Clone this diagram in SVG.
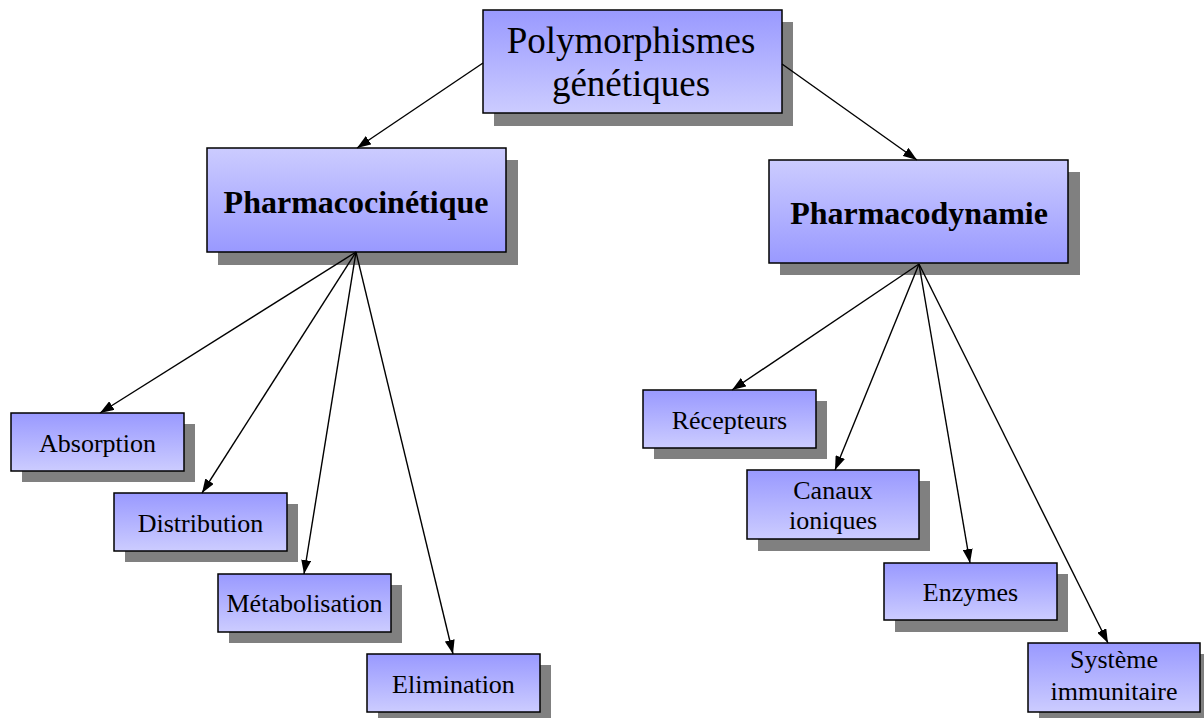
<svg xmlns="http://www.w3.org/2000/svg" width="1204" height="718" viewBox="0 0 1204 718">
  <defs>
    <linearGradient id="gDown" x1="0" y1="0" x2="0" y2="1">
      <stop offset="0" stop-color="#9999ff"/>
      <stop offset="1" stop-color="#ccccff"/>
    </linearGradient>
    <linearGradient id="gUp" x1="0" y1="0" x2="0" y2="1">
      <stop offset="0" stop-color="#ccccff"/>
      <stop offset="1" stop-color="#9999ff"/>
    </linearGradient>
    <marker id="arrow" viewBox="0 0 14 10" refX="14" refY="5" markerWidth="14" markerHeight="10" markerUnits="userSpaceOnUse" orient="auto">
      <path d="M0,0 L14,5 L0,10 Z" fill="#000"/>
    </marker>
    <style>
      .shadow { fill: #808080; }
      .box { stroke: #000; stroke-width: 1.5; }
      .light { fill: url(#gDown); }
      .heavy { fill: url(#gUp); }
      text { font-family: "Liberation Serif", "Times New Roman", serif; fill: #000; text-anchor: middle; }
      .t0 { font-size: 37px; }
      .t1 { font-size: 32px; font-weight: bold; }
      .t2 { font-size: 26px; }
      .conn line { stroke: #000; stroke-width: 1.4; marker-end: url(#arrow); }
    </style>
  </defs>
  <rect width="1204" height="718" fill="#fff"/>

  <g id="node-polymorphismes">
    <rect class="shadow" x="494" y="22" width="299" height="104"/>
    <rect class="box light" x="483" y="10" width="299" height="103"/>
    <text class="t0" x="631" y="53">Polymorphismes</text>
    <text class="t0" x="631" y="96">génétiques</text>
  </g>

  <g id="node-pharmacocinetique">
    <rect class="shadow" x="218" y="160" width="300" height="105"/>
    <rect class="box heavy" x="207" y="148" width="299" height="104"/>
    <text class="t1" x="356" y="213">Pharmacocinétique</text>
  </g>

  <g id="node-pharmacodynamie">
    <rect class="shadow" x="780" y="172" width="300" height="103"/>
    <rect class="box heavy" x="769" y="160" width="299" height="103"/>
    <text class="t1" x="919" y="224">Pharmacodynamie</text>
  </g>

  <g id="node-absorption">
    <rect class="shadow" x="22" y="424" width="173" height="58"/>
    <rect class="box light" x="11" y="413" width="173" height="58"/>
    <text class="t2" x="97.5" y="452">Absorption</text>
  </g>

  <g id="node-distribution">
    <rect class="shadow" x="125" y="504" width="173" height="58"/>
    <rect class="box light" x="114" y="493" width="173" height="58"/>
    <text class="t2" x="200.5" y="532">Distribution</text>
  </g>

  <g id="node-metabolisation">
    <rect class="shadow" x="229" y="585" width="173" height="58"/>
    <rect class="box light" x="218" y="574" width="173" height="58"/>
    <text class="t2" x="304.5" y="612">Métabolisation</text>
  </g>

  <g id="node-elimination">
    <rect class="shadow" x="378" y="665" width="173" height="58"/>
    <rect class="box light" x="367" y="654" width="173" height="58"/>
    <text class="t2" x="453.5" y="693">Elimination</text>
  </g>

  <g id="node-recepteurs">
    <rect class="shadow" x="654" y="401" width="173" height="58"/>
    <rect class="box light" x="643" y="390" width="173" height="58"/>
    <text class="t2" x="729.5" y="429">Récepteurs</text>
  </g>

  <g id="node-canaux">
    <rect class="shadow" x="758" y="481" width="172" height="70"/>
    <rect class="box light" x="747" y="470" width="172" height="69"/>
    <text class="t2" x="833" y="499">Canaux</text>
    <text class="t2" x="833" y="529">ioniques</text>
  </g>

  <g id="node-enzymes">
    <rect class="shadow" x="895" y="574" width="173" height="58"/>
    <rect class="box light" x="884" y="563" width="173" height="57"/>
    <text class="t2" x="970.5" y="601">Enzymes</text>
  </g>

  <g id="node-systeme">
    <rect class="shadow" x="1039" y="654" width="173" height="70"/>
    <rect class="box light" x="1028" y="643" width="172" height="69"/>
    <text class="t2" x="1114" y="668">Système</text>
    <text class="t2" x="1114" y="700">immunitaire</text>
  </g>

  <g id="connectors" class="conn">
    <line x1="483" y1="63" x2="357" y2="148"/>
    <line x1="782" y1="64" x2="917" y2="160"/>
    <line x1="356" y1="252" x2="100" y2="413"/>
    <line x1="356" y1="252" x2="202" y2="493"/>
    <line x1="356" y1="252" x2="304" y2="574"/>
    <line x1="356" y1="252" x2="453" y2="654"/>
    <line x1="919" y1="264" x2="732" y2="390"/>
    <line x1="919" y1="264" x2="835" y2="470"/>
    <line x1="919" y1="264" x2="970" y2="563"/>
    <line x1="919" y1="264" x2="1108" y2="643"/>
  </g>
</svg>
